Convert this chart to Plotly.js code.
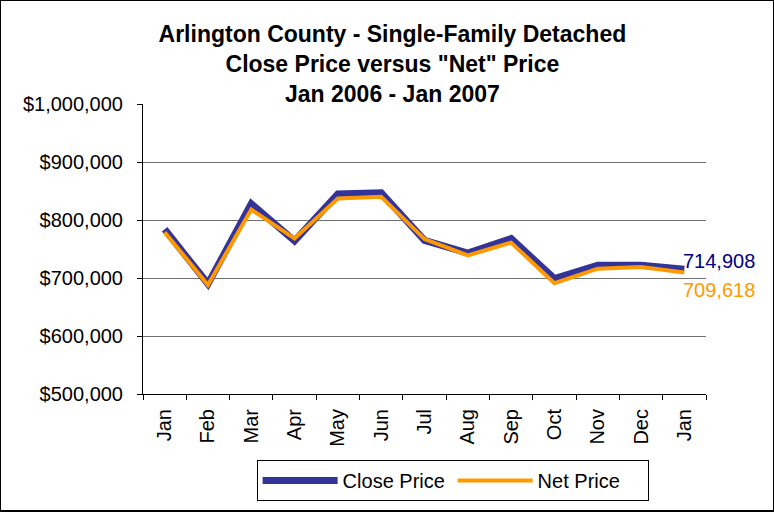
<!DOCTYPE html>
<html>
<head>
<meta charset="utf-8">
<script src="https://cdn.plot.ly/plotly-3.0.1.min.js"></script>
<style>
  body { margin: 0; }
  #chart { position: absolute; left: 0; top: 0; width: 772px; height: 509px; border: 1px solid #000; border-bottom-width: 2px; }
</style>
</head>
<body>
<div id="chart"></div>
<script>
// month labels (the year wraps round to Jan again)
var months = ['Jan', 'Feb', 'Mar', 'Apr', 'May', 'Jun', 'Jul', 'Aug', 'Sep', 'Oct', 'Nov', 'Dec', 'Jan'];
var closePrice = [784000, 690000, 828000, 764000, 845000, 847000, 765000, 743000, 768000, 699000, 722000, 722000, 714908];
var netPrice = [779000, 688000, 818000, 768000, 837000, 840000, 767000, 739000, 761000, 691000, 716000, 719000, 709618];

var idx = months.map(function(m, i) { return i; });
var last = months.length - 1;

var font = 'Liberation Sans, Arial, sans-serif';

var data = [{
  x: idx,
  y: closePrice,
  name: 'Close Price',
  type: 'scatter',
  mode: 'lines',
  line: {color: '#333399', width: 7}
}, {
  x: idx,
  y: netPrice,
  name: 'Net Price',
  type: 'scatter',
  mode: 'lines',
  line: {color: '#FF9900', width: 4}
}];

var layout = {
  width: 772,
  height: 509,
  paper_bgcolor: '#fff',
  plot_bgcolor: '#fff',
  font: {family: font, size: 20, color: '#000'},
  margin: {l: 142, r: 67, t: 103, b: 116},
  title: {
    text: 'Arlington County - Single-Family Detached<br>Close Price versus "Net" Price<br>Jan 2006 - Jan 2007',
    font: {family: font, size: 23, color: '#000', weight: 'bold'},
    xref: 'container', x: 0.507,
    yref: 'container', y: 0.92, yanchor: 'top'
  },
  showlegend: true,
  legend: {
    orientation: 'h',
    xref: 'container', x: 0.585, xanchor: 'center',
    yref: 'container', y: 0.098, yanchor: 'top',
    bordercolor: '#000', borderwidth: 1,
    font: {family: font, size: 20},
    itemwidth: 75,
    entrywidth: 105
  },
  xaxis: {
    range: [-0.5, 12.5],
    tickvals: idx,
    ticktext: months,
    tickangle: -90,
    ticks: '',
    showgrid: false,
    zeroline: false,
    showline: true,
    linecolor: '#000',
    linewidth: 1,
    minor: {ticks: 'outside', tick0: -0.5, dtick: 1, ticklen: 5, tickcolor: '#000', showgrid: false},
    ticklabelstandoff: 6,
    fixedrange: true
  },
  yaxis: {
    range: [500000, 1000000],
    dtick: 100000,
    tickformat: ',d',
    tickprefix: '$',
    ticks: 'outside',
    ticklen: 5,
    tickcolor: '#000',
    showline: true,
    linecolor: '#000',
    gridcolor: '#707070',
    zeroline: false,
    ticklabelstandoff: 10,
    fixedrange: true
  },
  annotations: [{
    x: last, y: closePrice[last],
    text: closePrice[last].toLocaleString('en-US'),
    showarrow: false, xanchor: 'left', xshift: -3, yshift: 8,
    font: {family: font, size: 20, color: '#000080'}
  }, {
    x: last, y: netPrice[last],
    text: netPrice[last].toLocaleString('en-US'),
    showarrow: false, xanchor: 'left', xshift: -3, yshift: -18,
    font: {family: font, size: 20, color: '#FF9900'}
  }]
};

var config = {
  displayModeBar: false,
  staticPlot: true
};

Plotly.newPlot('chart', data, layout, config);
</script>
</body>
</html>
